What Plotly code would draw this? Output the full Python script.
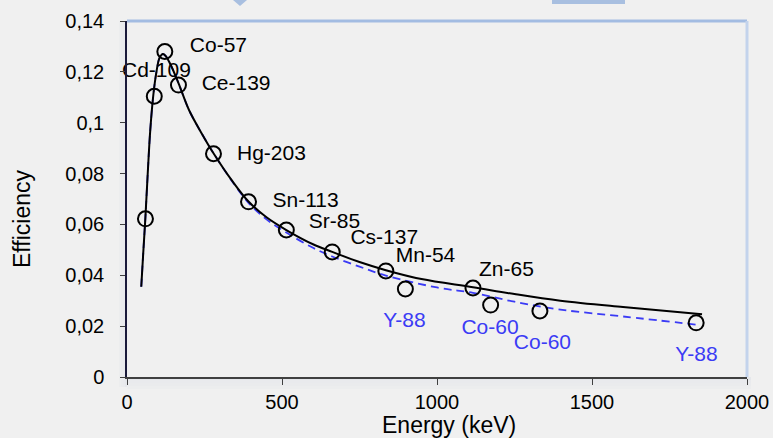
import plotly.graph_objects as go

# ---- data ----
point_energy = [59.5, 88, 122, 166, 279, 392, 514, 662, 835, 898, 1116, 1173, 1332, 1836]
point_eff = [0.0622, 0.1104, 0.128, 0.1148, 0.0878, 0.0689, 0.0578, 0.0492, 0.0417, 0.0346, 0.0350, 0.0283, 0.0260, 0.0213]

fit_energy = [46, 52, 59, 66, 75, 85, 95, 105, 116, 125, 140, 166, 200, 240, 279, 340, 392, 450, 514, 600, 662, 750, 835, 950, 1116, 1250, 1398, 1600, 1855]
fit_eff = [0.0355, 0.048, 0.062, 0.078, 0.097, 0.111, 0.120, 0.1255, 0.127, 0.1262, 0.1230, 0.1156, 0.1050, 0.0960, 0.0880, 0.0770, 0.0690, 0.0628, 0.0578, 0.0522, 0.0492, 0.0452, 0.0420, 0.0385, 0.0353, 0.0326, 0.0300, 0.0275, 0.0247]

fit2_energy = [46, 52, 59, 66, 75, 85, 95, 105, 116, 125, 140, 166, 200, 240, 279, 340, 392, 450, 514, 600, 662, 750, 835, 1000, 1116, 1250, 1398, 1600, 1844]
fit2_eff = [0.0355, 0.048, 0.062, 0.078, 0.097, 0.111, 0.120, 0.1255, 0.127, 0.1262, 0.1230, 0.1156, 0.1050, 0.0960, 0.0880, 0.0768, 0.0685, 0.0620, 0.0568, 0.0508, 0.0474, 0.0434, 0.0399, 0.0352, 0.0331, 0.0296, 0.0265, 0.0238, 0.0205]

black_labels = ["Co-57", "Cd-109", "Ce-139", "Hg-203", "Sn-113", "Sr-85", "Cs-137", "Mn-54", "Zn-65"]
black_label_x = [295, 95, 352, 466, 576, 669, 830, 963, 1224]
black_label_y = [0.1300, 0.1202, 0.1150, 0.0874, 0.0689, 0.0605, 0.0542, 0.0474, 0.0419]

blue_labels = ["Y-88", "Co-60", "Co-60", "Y-88"]
blue_label_x = [895, 1171, 1340, 1837]
blue_label_y = [0.0218, 0.0188, 0.0130, 0.0083]

x_tickvals = [0, 500, 1000, 1500, 2000]
x_ticktext = ["0", "500", "1000", "1500", "2000"]
y_tickvals = [0, 0.02, 0.04, 0.06, 0.08, 0.10, 0.12, 0.14]
y_ticktext = ["0", "0,02", "0,04", "0,06", "0,08", "0,1", "0,12", "0,14"]

BLUE = "#3b3bf5"
FONT = "Liberation Sans, Arial, sans-serif"

fig = go.Figure()
fig.add_trace(go.Scatter(x=fit2_energy, y=fit2_eff, mode="lines",
                         line=dict(color=BLUE, width=1.8, dash="8px,5px", shape="spline"),
                         hoverinfo="skip", showlegend=False))
fig.add_trace(go.Scatter(x=fit_energy, y=fit_eff, mode="lines",
                         line=dict(color="black", width=2, shape="spline"),
                         hoverinfo="skip", showlegend=False))
fig.add_trace(go.Scatter(x=point_energy, y=point_eff, mode="markers",
                         marker=dict(symbol="circle-open", size=15, color="black", line=dict(width=2, color="black")),
                         showlegend=False))
fig.add_trace(go.Scatter(x=black_label_x, y=black_label_y, mode="text", text=black_labels,
                         textposition="middle center", textfont=dict(family=FONT, size=21, color="black"),
                         showlegend=False, hoverinfo="skip", cliponaxis=False))
fig.add_trace(go.Scatter(x=blue_label_x, y=blue_label_y, mode="text", text=blue_labels,
                         textposition="middle center", textfont=dict(family=FONT, size=21, color=BLUE),
                         showlegend=False, hoverinfo="skip", cliponaxis=False))

L, R, T, B = 127, 26, 21, 67
W, H = 773, 444
pw, ph = W - L - R, H - T - B


def px(xp):
    return (xp - L) / pw


def py(yp):
    return (H - B - yp) / ph


shapes = []
# soft shadows around the plot area
for i, op in enumerate([0.10, 0.07, 0.05, 0.03]):
    shapes.append(dict(type="rect", xref="paper", yref="paper", x0=px(L - 2 - 2 * i), x1=px(L - 2 * i),
                       y0=py(H - B + 10), y1=py(T), fillcolor="#8aa0c8", opacity=op, line_width=0, layer="below"))
    shapes.append(dict(type="rect", xref="paper", yref="paper", x0=px(L), x1=px(W - R + 4),
                       y0=py(H - B + 3 * i + 3), y1=py(H - B + 3 * i), fillcolor="#8aa0c8", opacity=op, line_width=0, layer="below"))
# top and right light-blue frame
shapes.append(dict(type="line", xref="paper", yref="paper", x0=0, x1=1, y0=1, y1=1,
                   line=dict(color="#a3bce2", width=3)))
shapes.append(dict(type="line", xref="paper", yref="paper", x0=1, x1=1, y0=0, y1=1,
                   line=dict(color="#c3d3ec", width=3)))
# decorations at the very top
shapes.append(dict(type="rect", xref="paper", yref="paper", x0=px(552), x1=px(625), y0=py(4), y1=py(-2),
                   fillcolor="#a8bfe0", line_width=0))
shapes.append(dict(type="path", xref="paper", yref="paper",
                   path=f"M {px(233)} {py(0)} L {px(247)} {py(0)} L {px(240)} {py(6)} Z",
                   fillcolor="#a8bfe0", line_width=0))
# white strip at bottom
shapes.append(dict(type="rect", xref="paper", yref="paper", x0=px(-5), x1=px(W + 5), y0=py(H + 5), y1=py(438),
                   fillcolor="white", line_width=0))

fig.update_layout(
    width=W, height=H,
    margin=dict(l=L, r=R, t=T, b=B, autoexpand=False),
    paper_bgcolor="#f0f0f0", plot_bgcolor="#f0f0f0",
    font=dict(family=FONT, size=20, color="black"),
    shapes=shapes,
    annotations=[
        dict(text="Energy (keV)", xref="paper", yref="paper", x=px(449), y=py(425), showarrow=False,
             font=dict(size=23, family=FONT), xanchor="center", yanchor="middle"),
        dict(text="Efficiency", xref="paper", yref="paper", x=px(22), y=py(219), showarrow=False,
             font=dict(size=23, family=FONT), textangle=-90, xanchor="center", yanchor="middle"),
    ],
)
fig.update_xaxes(range=[0, 2000], tickvals=x_tickvals, ticktext=x_ticktext, showgrid=False, zeroline=False,
                 showline=True, linecolor="#404040", linewidth=1.5, ticks="outside", ticklen=6, tickcolor="#404040",
                 tickfont=dict(size=20), automargin=False)
fig.update_yaxes(range=[0, 0.14], tickvals=y_tickvals, ticktext=y_ticktext, showgrid=False, zeroline=False,
                 showline=True, linecolor="#1a1a3a", linewidth=1.5, ticks="outside", ticklen=5, tickcolor="#404040",
                 tickfont=dict(size=20), automargin=False, ticklabelstandoff=12)

fig.write_html("out.html", config={"displayModeBar": False},
               post_script="document.body.style.margin='0';document.body.style.overflow='hidden';")
